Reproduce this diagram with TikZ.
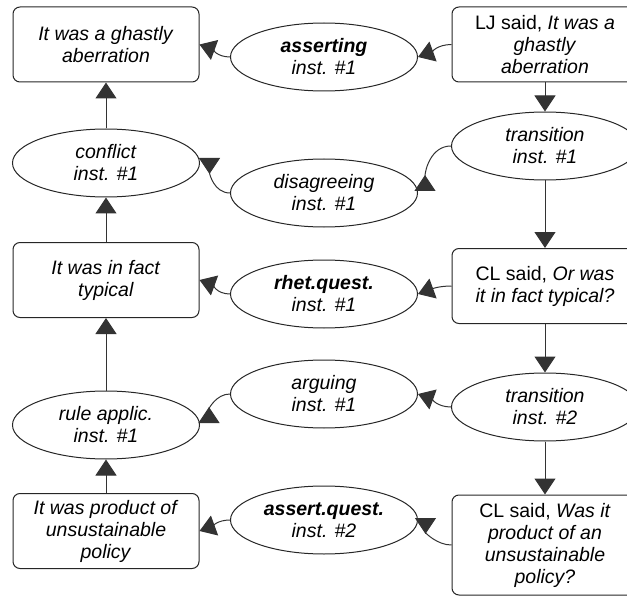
\documentclass[tikz,border=0pt]{standalone}
\usepackage{fontspec}
\setmainfont{Liberation Sans}
\usepackage{tikz}
\usetikzlibrary{arrows.meta,shapes.geometric}

\begin{document}
\begin{tikzpicture}[x=1pt,y=1pt,line width=1pt,
  >={Triangle[width=21pt,length=16pt]},
  every node/.style={font=\fontsize{19.5}{22}\selectfont,align=center,draw=black!85},
  claim/.style={rectangle,rounded corners=7pt,minimum width=186pt,minimum height=75pt,inner sep=0pt},
  scheme/.style={ellipse,minimum width=187pt,minimum height=68pt,inner sep=0pt},
  link/.style={draw=black!80,->},
  invlink/.style={draw=black!80,-{Triangle[width=21pt,length=16pt,reversed]}}]
  \useasboundingbox (0,0) rectangle (627,-599);
  \clip (0,0) rectangle (627,-599);

  % left column: propositions
  \node[claim] (ghastly) at (106,-44.5) {\textit{It was a ghastly}\\\textit{aberration}};
  \node[scheme] (conflict) at (106,-163) {\textit{conflict}\\\textit{inst. \#1}};
  \node[claim] (typical) at (106,-280) {\textit{It was in fact}\\\textit{typical}};
  \node[scheme] (rule) at (106,-425) {\textit{rule applic.}\\\textit{inst. \#1}};
  \node[claim] (product) at (106,-531) {\textit{It was product of}\\\textit{unsustainable}\\\textit{policy}};

  % middle column
  \node[scheme] (asserting) at (324,-57) {\textbf{\textit{asserting}}\\\textit{inst. \#1}};
  \node[scheme] (disagree) at (324,-193) {\textit{disagreeing}\\\textit{inst. \#1}};
  \node[scheme] (rhetq) at (324,-294) {\textbf{\textit{rhet.quest.}}\\\textit{inst. \#1}};
  \node[scheme] (arguing) at (324,-394) {\textit{arguing}\\\textit{inst. \#1}};
  \node[scheme] (assertq) at (324,-520) {\textbf{\textit{assert.quest.}}\\\textit{inst. \#2}};

  % right column: locutions
  \node[claim] (ljsaid) at (545,-44.5) {LJ said, \textit{It was a}\\\textit{ghastly}\\\textit{aberration}};
  \node[scheme] (trans1) at (545,-146) {\textit{transition}\\\textit{inst. \#1}};
  \node[claim] (clor) at (545,-286) {CL said, \textit{Or was}\\\textit{it in fact typical?}};
  \node[scheme] (trans2) at (545,-407) {\textit{transition}\\\textit{inst. \#2}};
  \node[claim,minimum height=100pt] (clwas) at (545,-545) {CL said, \textit{Was it}\\\textit{product of an}\\\textit{unsustainable}\\\textit{policy?}};

  % vertical links
  \draw[link] (conflict) -- (ghastly);
  \draw[link] (typical) -- (conflict);
  \draw[link] (rule) -- (typical);
  \draw[link] (product) -- (rule);
  \draw[link] (ljsaid) -- (trans1);
  \draw[link] (trans1) -- (clor);
  \draw[link] (clor) -- (trans2);
  \draw[link] (trans2) -- (clwas);

  % sideways links
  \draw[link] (ljsaid.west) to[out=180,in=20] (asserting.east);
  \draw[link] (asserting.west) to[out=180,in=-20] (ghastly.east);
  \draw[invlink] (trans1.west) to[out=180,in=90] ([xshift=7pt,yshift=2pt]disagree.east);
  \draw[invlink] (disagree.west) to[out=180,in=-90] ([xshift=9.5pt,yshift=5pt]conflict.east);
  \draw[link] (clor.west) to[out=180,in=20] (rhetq.east);
  \draw[link] (rhetq.west) to[out=180,in=-20] (typical.east);
  \draw[link] (trans2.west) to[out=180,in=-20] (arguing.east);
  \draw[invlink] (arguing.west) to[out=180,in=90] ([xshift=9pt,yshift=2pt]rule.east);
  \draw[invlink] (clwas.west) to[out=180,in=-90] ([xshift=7.5pt,yshift=2pt]assertq.east);
  \draw[link] (assertq.west) to[out=180,in=20] (product.east);
\end{tikzpicture}
\end{document}
